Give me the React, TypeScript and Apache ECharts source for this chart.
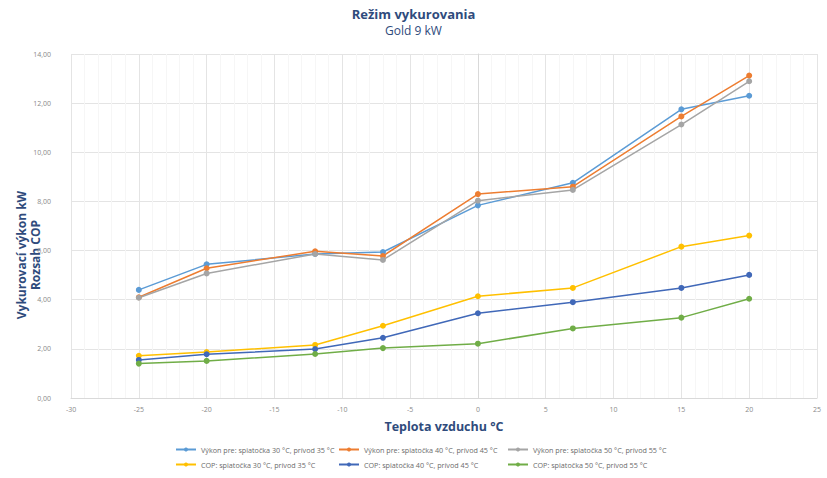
import React, { useEffect, useRef } from "react";
import * as echarts from "echarts";

const temps = [-25, -20, -12, -7, 0, 7, 15, 20];
const seriesNames = [
  "Výkon pre: spiatočka 30 °C, prívod 35 °C",
  "Výkon pre: spiatočka 40 °C, prívod 45 °C",
  "Výkon pre: spiatočka 50 °C, prívod 55 °C",
  "COP: spiatočka 30 °C, prívod 35 °C",
  "COP: spiatočka 40 °C, prívod 45 °C",
  "COP: spiatočka 50 °C, prívod 55 °C",
];
const vykon30 = [4.4, 5.44, 5.86, 5.94, 7.84, 8.76, 11.75, 12.3];
const vykon40 = [4.1, 5.28, 5.97, 5.78, 8.3, 8.6, 11.46, 13.12];
const vykon50 = [4.08, 5.07, 5.86, 5.62, 8.03, 8.47, 11.13, 12.89];
const cop30 = [1.72, 1.87, 2.16, 2.94, 4.14, 4.48, 6.16, 6.61];
const cop40 = [1.55, 1.78, 1.99, 2.45, 3.45, 3.9, 4.48, 5.01];
const cop50 = [1.4, 1.51, 1.79, 2.03, 2.21, 2.83, 3.27, 4.04];
const allValues = [vykon30, vykon40, vykon50, cop30, cop40, cop50];
const colors = ["#5B9BD5", "#ED7D31", "#A5A5A5", "#FFC000", "#4068B8", "#70AD47"];
const yAxisTitleLines = ["Vykurovací výkon kW", "Rozsah COP"];

const NAVY = "#2F4B7C";
const FONT = "'Open Sans', 'Noto Sans', sans-serif";

export default function App() {
  const ref = useRef<HTMLDivElement>(null);
  useEffect(() => {
    if (!ref.current) return;
    const chart = echarts.init(ref.current, null, { renderer: "svg" });
    const legendCols = [175, 338, 507];
    const legendRows = [446, 461];
    const legends = seriesNames.map((n, i) => ({
      data: [n],
      left: legendCols[i % 3],
      top: legendRows[Math.floor(i / 3)],
      itemWidth: 20,
      itemHeight: 5,
      itemGap: 4,
      padding: 0,
      textStyle: { fontSize: 7.2, color: "#6b6b6b", fontFamily: FONT },
    }));
    chart.setOption({
      animation: false,
      backgroundColor: "#ffffff",
      title: [
        {
          text: "Režim vykurovania",
          left: "center",
          top: 7,
          padding: 0,
          textStyle: { fontSize: 13, fontWeight: "bold", color: NAVY, fontFamily: FONT },
        },
        {
          text: "Gold 9 kW",
          left: "center",
          top: 24,
          padding: 0,
          textStyle: { fontSize: 12, fontWeight: "normal", color: NAVY, fontFamily: FONT },
        },
      ],
      legend: legends,
      grid: { left: 71, right: 10, top: 54, bottom: 80 },
      xAxis: {
        type: "value",
        min: -30,
        max: 25,
        interval: 5,
        name: "Teplota vzduchu °C",
        nameLocation: "middle",
        nameGap: 22,
        nameTextStyle: { fontSize: 12.5, fontWeight: "bold", color: NAVY, fontFamily: FONT },
        axisLine: { show: true, lineStyle: { color: "#d9d9d9" } },
        axisTick: { show: false },
        axisLabel: { fontSize: 7, color: "#8a8a8a", margin: 8, fontFamily: FONT },
        splitLine: { show: true, lineStyle: { color: "#e4e4e4", width: 1 } },
        minorTick: { show: false, splitNumber: 5 },
        minorSplitLine: { show: true, lineStyle: { color: "#f6f6f6", width: 1 } },
      },
      yAxis: {
        type: "value",
        min: 0,
        max: 14,
        interval: 2,
        axisLine: { show: true, lineStyle: { color: "#d9d9d9" } },
        axisTick: { show: false },
        axisLabel: {
          fontSize: 7,
          color: "#8a8a8a",
          margin: 20,
          fontFamily: FONT,
          formatter: (v: number) => v.toFixed(2).replace(".", ","),
        },
        splitLine: { show: true, lineStyle: { color: "#e4e4e4", width: 1 } },
      },
      graphic: yAxisTitleLines.map((t, i) => ({
        type: "text",
        x: 21 + i * 14,
        y: 255,
        rotation: Math.PI / 2,
        style: {
          text: t,
          fontSize: 12,
          fontWeight: "bold",
          fill: NAVY,
          fontFamily: FONT,
          align: "center",
          verticalAlign: "middle",
        },
      })),
      series: seriesNames.map((n, i) => ({
        name: n,
        type: "line",
        data: temps.map((t, j) => [t, allValues[i][j]]),
        symbol: "circle",
        symbolSize: 6,
        lineStyle: { width: 1.5, color: colors[i] },
        itemStyle: { color: colors[i] },
      })),
    });
    return () => chart.dispose();
  }, []);
  return (
    <div
      ref={ref}
      style={{ position: "absolute", left: 0, top: 0, width: 827, height: 478 }}
    />
  );
}
